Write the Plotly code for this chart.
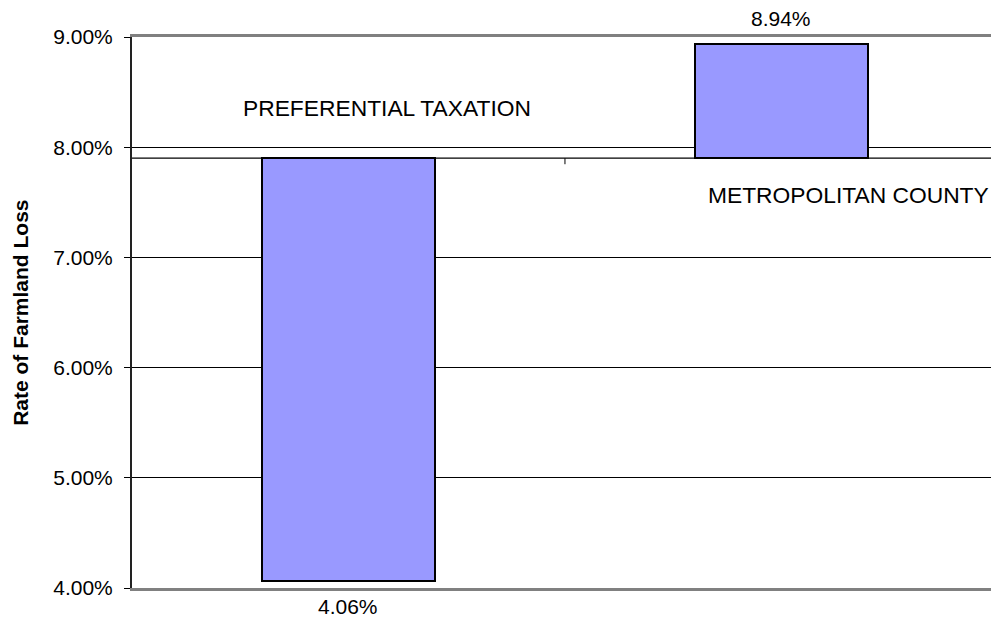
import plotly.graph_objects as go

# Rate of farmland loss relative to the overall rate
categories = ["PREFERENTIAL TAXATION", "METROPOLITAN COUNTY"]
rates = [4.06, 8.94]          # percent
baseline = 7.90               # percent, bars start here
y_ticks = [4, 5, 6, 7, 8, 9]

FONT = "Liberation Sans, Arial, sans-serif"
x_pos = list(range(len(categories)))

fig = go.Figure()
fig.add_trace(go.Bar(
    x=x_pos,
    y=[r - baseline for r in rates],
    base=[baseline] * len(rates),
    width=0.40,
    marker=dict(color="#9999FF", line=dict(color="black", width=2)),
    hoverinfo="skip",
))

# value labels beyond the end of each bar
for xi, r in zip(x_pos, rates):
    fig.add_annotation(
        x=xi, y=r, xref="x", yref="y",
        text=f"{r:.2f}%", showarrow=False,
        yanchor="middle", yshift=25 if r > baseline else -25,
        font=dict(family=FONT, size=21, color="black"),
    )

# category names set beside the bars
cat_label_pos = [(0.09, 8.356), (1.154, 7.569)]
for name, (lx, ly) in zip(categories, cat_label_pos):
    fig.add_annotation(
        x=lx, y=ly, xref="x", yref="y", text=name, showarrow=False,
        xanchor="center", yanchor="middle",
        font=dict(family=FONT, size=22.8, color="black"),
    )

# category axis running along the baseline, with the divider tick
fig.add_shape(type="line", xref="paper", yref="y", x0=0, x1=1,
              y0=baseline, y1=baseline, line=dict(color="black", width=1.2))
fig.add_shape(type="line", xref="x", yref="y", ysizemode="pixel",
              yanchor=baseline, x0=0.5, x1=0.5, y0=0, y1=-6,
              line=dict(color="black", width=1))

# y-axis title
fig.add_annotation(
    xref="paper", yref="paper", x=-0.13, y=0.5,
    text="<b>Rate of Farmland Loss</b>", textangle=-90, showarrow=False,
    xanchor="center", yanchor="middle",
    font=dict(family=FONT, size=21, color="black"),
)

fig.update_layout(
    width=991, height=618,
    margin=dict(l=132, r=0, t=37, b=30),
    paper_bgcolor="white", plot_bgcolor="white",
    showlegend=False,
    font=dict(family=FONT, size=21, color="black"),
    bargap=0,
)
fig.update_xaxes(
    range=[-0.5, 1.484], showticklabels=False, ticks="",
    showgrid=False, zeroline=False,
    showline=True, mirror=True, linecolor="#808080", linewidth=3,
)
fig.update_yaxes(
    range=[4, 9], tickvals=y_ticks,
    ticktext=[f"{v:.2f}%" for v in y_ticks],
    showgrid=True, gridcolor="black", gridwidth=1,
    zeroline=False,
    showline=True, linecolor="#222222", linewidth=2,
    ticks="outside", ticklen=6, tickcolor="black", tickwidth=1,
    ticklabelstandoff=7,
    tickfont=dict(family=FONT, size=21, color="black"),
)

fig.write_html("out.html")
